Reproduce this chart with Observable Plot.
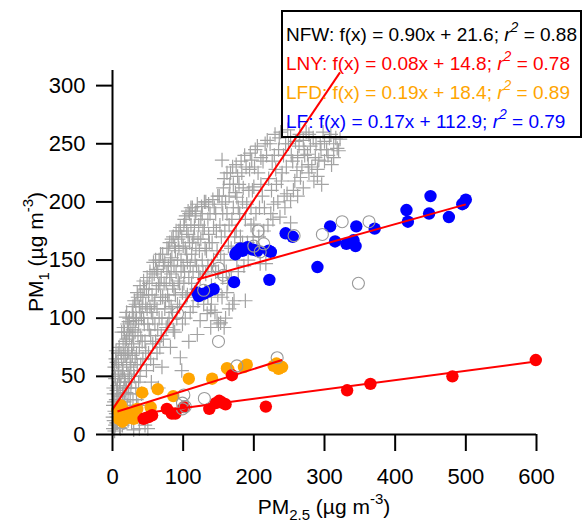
<!DOCTYPE html>
<html>
<head>
<meta charset="utf-8">
<script src="https://cdn.jsdelivr.net/npm/d3@7"></script>
<script src="https://cdn.jsdelivr.net/npm/@observablehq/plot@0.6"></script>
<style>
  html, body { margin: 0; padding: 0; background: white; }
  #chart { width: 583px; height: 523px; }
</style>
</head>
<body>
<div id="chart"></div>
<script>
// ---- Data ----
// NFW: grey plus markers [PM2.5, PM1]
const nfw = [
 [1,5],[2,12],[3,20],[4,8],[5,30],[6,15],[7,42],[8,25],[9,55],[2,35],[4,48],[6,62],[8,70],[3,3],[5,18],[7,10],[9,33],[1,25],[10,45],[10,6],[6,38],[8,52],[3,58],[9,20],[5,72],
 [11,30],[12,50],[13,65],[14,8],[15,78],[16,40],[17,88],[18,22],[19,101],[20,60],[21,95],[22,35],[23,72],[24,85],[12,16],[14,55],[16,68],[18,45],[20,82],[22,12],[24,50],[15,28],[19,36],[23,97],[25,62],
 [26,40],[27,75],[28,105],[29,90],[30,55],[31,115],[32,20],[33,98],[34,70],[35,122],[36,85],[37,45],[38,110],[39,128],[40,60],[41,100],[42,80],[43,118],[44,132],[45,95],[46,8],[47,72],[48,125],[49,108],[50,5],[30,4],[38,5],[34,30],
 [51,120],[52,90],[53,140],[54,65],[55,105],[56,135],[57,78],[58,148],[59,112],[60,95],[61,150],[62,125],[63,70],[64,140],[66,100],[67,130],[68,155],[69,85],[70,58],[71,118],[72,145],[74,108],[55,45],[65,40],
 [76,130],[77,160],[78,95],[79,145],[80,115],[81,165],[82,75],[83,138],[84,152],[85,105],[86,170],[87,125],[88,88],[89,158],[90,140],[92,112],[93,168],[94,175],[95,130],[96,66],[97,150],[98,55],[99,122],[100,162],
 [101,180],[102,140],[103,100],[104,188],[105,155],[106,120],[107,172],[108,80],[109,190],[110,145],[111,195],[112,130],[113,165],[114,110],[116,178],[117,150],[118,192],[119,125],[120,86],[121,168],[122,140],[124,98],[125,185],
 [126,196],[127,150],[128,175],[129,112],[130,200],[131,160],[132,138],[134,104],[135,185],[136,198],[137,165],[139,92],[139,107],[140,145],[142,202],[143,178],[145,125],[146,190],[148,158],[150,95],[150,140],
 [151,205],[153,96],[154,170],[155,236],[156,190],[157,212],[158,150],[160,200],[162,225],[163,130],[165,180],[166,215],[168,160],[170,230],[171,195],[172,115],[174,208],[175,175],
 [176,204],[177,222],[178,140],[180,190],[182,235],[184,165],[185,212],[187,240],[188,115],[190,198],[192,150],[194,228],[196,180],[197,236],[198,210],[200,181],
 [200,213],[202,245],[204,160],[206,225],[208,195],[209,147],[210,238],[212,205],[214,175],[216,250],[217,147],[219,253],[221,220],[224,190],
 [226,235],[228,198],[230,258],[232,215],[235,245],[237,187],[238,260],[240,225],[243,205],[245,250],[247,207],[248,262],
 [252,182],[252,201],[252,256],[255,235],[258,218],[261,227],[264,248],[266,221],[270,253],[272,240],
 [276,241],[278,258],[282,230],[285,218],[288,250],[292,236],[294,250],[298,260],
 [303,245],[307,255],[310,232],[313,238],[313,250],[318,246],[322,254],
 [0.5,15],[1.5,40],[2.5,28],[3.5,50],[4.5,65],[5.5,10],[6.5,25],[7.5,35],[8.5,60],[9.5,75],[11,5],[11,42],[12,70],[13,20],[13,88],[14,35],[15,55],[16,10],[16,92],[17,48],[17,28],[18,68],[18,80],[19,15],[20,40],[20,105],[21,25],[21,70],[22,52],[22,88],[23,40],[24,18],[24,100],[25,30],[26,58],[26,92],[27,10],[27,45],[28,68],[28,85],[29,30],[29,110],[30,78],[30,100],
 [31,50],[32,88],[32,65],[33,40],[33,112],[34,100],[35,60],[36,25],[36,118],[37,95],[38,75],[39,50],[39,105],[40,120],[40,85],[41,35],[42,110],[43,65],[44,100],[45,125],[46,80],[47,112],[48,55],[49,135],[50,95],[51,70],[52,130],[53,110],[54,85],[56,120],[57,100],[58,60],[59,138],[60,115],[61,80],[62,142],[63,108],[64,90],[65,128],[66,150],[67,75],[68,118],[69,135],[70,100],[71,155],[72,82],[73,130],[74,148],[75,115],[76,92],[77,140],[78,120],[79,160],[80,100],
 [81,135],[82,150],[83,110],[84,168],[85,128],[86,90],[87,145],[88,162],[89,120],[90,175],[91,100],[92,150],[93,132],[94,160],[95,110],[96,178],[97,140],[98,170],[99,95],[100,145],[101,130],[102,185],[103,160],[104,118],[105,175],[106,148],[107,192],[108,135],[109,165],[110,105],[111,180],[112,155],[113,195],[114,140],[115,170],[116,122],[117,188],[118,160],[119,145],[120,198],[121,115],[122,180],[123,158],[124,135],[125,168],[127,190],[128,140],[130,178],[131,122],[132,200],[133,158],[135,145],[136,172],[138,190],[140,128],[141,165],[143,150],[144,195],[146,140],[147,175],[149,205],[149,120],
 [152,180],[153,155],[155,198],[156,135],[158,220],[159,175],[161,140],[162,190],[164,162],[165,205],[167,225],[168,135],[169,185],[171,215],[173,170],[175,232],[176,150],[178,195],[179,215],[181,170],[183,225],[184,200],[186,145],[188,185],[189,230],[191,165],[193,210],[195,242],[196,195],[199,170],[201,230],[203,190],[205,248],[207,170],[210,215],[213,235],[215,195],[218,240],[220,180],[223,250],[225,210],[227,185],[229,240],[231,228],[234,200],[236,255],[239,218],[242,240],[244,195],[246,230],[249,250],
 [253,240],[256,210],[259,252],[262,238],[265,258],[268,230],[271,245],[274,260],[277,232],[280,248],[284,255],[287,238],[290,228],[295,245],[300,252],[305,240],[309,258],[316,255],[320,244],
 [160,100],[165,108],[158,92],[170,112],[155,118],[162,122],[145,105],[148,98],[140,112],[135,118],
 [270,212],[278,225],[262,205],[290,222],[300,235],[296,215]
];
// Other (open grey circles)
const other = [
 [99,22],[99,27],[101,34],[103,24],[130,31],[92,104],[150,80],[176,59],[233,66],[129,124],[150,143],[157,137],
 [200,162],[206,175],[209,157],[214,164],[257,171],[297,172],[325,183],[363,183],[348,130]
];
// LFD (orange)
const lfd = [
 [7,21],[9,13.5],[12,25],[14,11],[16,20.5],[20,14],[25,15],[28,18],[30,13.5],[35,22],[42,36],[54,23.5],[64,39],[86,33],
 [108,48],[141,48],[162,57],[164,56],[186,58],[190,60],[228,59],[232,61],[235,56.5],[240,58]
];
// LNY (red)
const lny = [
 [44,13.5],[51,15],[56,16.5],[77,22],[84,18],[89,18],[101,23.5],[137,22],[146,27],[151,29],[155,27.5],[160,26],
 [169,51],[217,24],[332,38],[365,43.5],[481,50],[599,64]
];
// LF (blue)
const lf = [
 [120,122],[122,119],[129,121],[136,123],[143,125],[172,131],[174,155],[176,157],[181,160],[184,158],[191,161],[198,159],
 [205,158],[221,158],[224,157],[222,133],[245,173],[255,170],[290,144],[308,179],[315,166],[331,164],[341,167],[344,162],
 [345,179],[371,177],[416,193],[418,183],[448,190],[450,205],[476,187],[495,198],[497,199],[500,202]
];
// Linear fits: name, slope, intercept, r2, x-range, legend colour
const fitNames = ["NFW", "LNY", "LFD", "LF"];
const fitSlopes = [0.90, 0.08, 0.19, 0.17];
const fitIntercepts = [21.6, 14.8, 18.4, 112.9];
const fitR2 = [0.88, 0.78, 0.89, 0.79];
const fitX0 = [0, 44, 7, 120];
const fitX1 = [322, 599, 240, 500];
const fitColors = ["black", "#ff0000", "#ffa500", "#0000ff"];
const xTicks = [0, 100, 200, 300, 400, 500, 600];
const yTicks = [0, 50, 100, 150, 200, 250, 300];

const toObj = a => a.map(([x, y]) => ({x, y}));
const fits = fitNames.map((n, i) => ({
  name: n,
  x1: fitX0[i], y1: fitSlopes[i] * fitX0[i] + fitIntercepts[i],
  x2: fitX1[i], y2: fitSlopes[i] * fitX1[i] + fitIntercepts[i]
}));

const FONT = "'Liberation Sans', Arial, Helvetica, sans-serif";

const svg = Plot.plot({
  width: 583, height: 523,
  marginLeft: 112, marginRight: 47, marginTop: 70, marginBottom: 89,
  x: {domain: [0, 600], ticks: xTicks, label: null},
  y: {domain: [0, 313], ticks: yTicks, label: null},
  style: {fontFamily: FONT, fontSize: "21px", background: "white", color: "black", overflow: "visible"},
  marks: [
    Plot.dot(toObj(nfw), {x: "x", y: "y", symbol: "plus", r: 4.7, stroke: "#a3a3a3", strokeWidth: 1.2}),
    Plot.dot(toObj(lfd), {x: "x", y: "y", r: 6.2, fill: "#ffa500"}),
    Plot.dot(toObj(lny), {x: "x", y: "y", r: 6.2, fill: "#ff0000"}),
    Plot.dot(toObj(lf), {x: "x", y: "y", r: 6.2, fill: "#0000ff"}),
    Plot.dot(toObj(other), {x: "x", y: "y", r: 6, fill: "none", stroke: "#999999", strokeWidth: 1.1}),
    Plot.link(fits, {x1: "x1", y1: "y1", x2: "x2", y2: "y2", stroke: "#ff0000", strokeWidth: 2}),
    Plot.ruleX([0], {stroke: "black", strokeWidth: 2}),
    Plot.ruleY([0], {stroke: "black", strokeWidth: 2}),
    Plot.axisX({ticks: xTicks, tickSize: 17, tickPadding: 17, strokeWidth: 2, fontSize: 22, label: null}),
    Plot.axisY({ticks: yTicks, tickSize: 16, tickPadding: 11, strokeWidth: 2, fontSize: 22, label: null})
  ]
});
document.getElementById("chart").appendChild(svg);

const s = d3.select(svg);
// X axis title
const xt = s.append("text").attr("x", 324).attr("y", 514).attr("text-anchor", "middle")
  .attr("font-family", FONT).attr("font-size", 21).attr("fill", "black");
xt.append("tspan").text("PM");
xt.append("tspan").attr("font-size", 15).attr("dy", 6).text("2.5");
xt.append("tspan").attr("dy", -6).text(" (µg m");
xt.append("tspan").attr("font-size", 15).attr("dy", -10).text("-3");
xt.append("tspan").attr("dy", 10).text(")");
// Y axis title
const yt = s.append("text").attr("transform", "translate(43,252) rotate(-90)").attr("text-anchor", "middle")
  .attr("font-family", FONT).attr("font-size", 21).attr("fill", "black");
yt.append("tspan").text("PM");
yt.append("tspan").attr("font-size", 15).attr("dy", 6).text("1");
yt.append("tspan").attr("dy", -6).text(" (µg m");
yt.append("tspan").attr("font-size", 15).attr("dy", -10).text("-3");
yt.append("tspan").attr("dy", 10).text(")");

// Legend box
s.append("rect").attr("x", 282).attr("y", 11).attr("width", 299).attr("height", 126)
  .attr("fill", "none").attr("stroke", "black").attr("stroke-width", 2);
fitNames.forEach((n, i) => {
  const t = s.append("text").attr("x", 286).attr("y", 41 + i * 29).attr("text-anchor", "start")
    .attr("font-family", FONT).attr("font-size", 19).attr("fill", fitColors[i]);
  t.append("tspan").text(`${n}: f(x) = ${fitSlopes[i].toFixed(2)}x + ${fitIntercepts[i].toFixed(1)}; `);
  t.append("tspan").attr("font-style", "italic").text("r");
  t.append("tspan").attr("font-size", 14).attr("dy", -9).attr("font-style", "italic").text("2");
  t.append("tspan").attr("dy", 9).text(` = ${fitR2[i].toFixed(2)}`);
});
</script>
</body>
</html>
